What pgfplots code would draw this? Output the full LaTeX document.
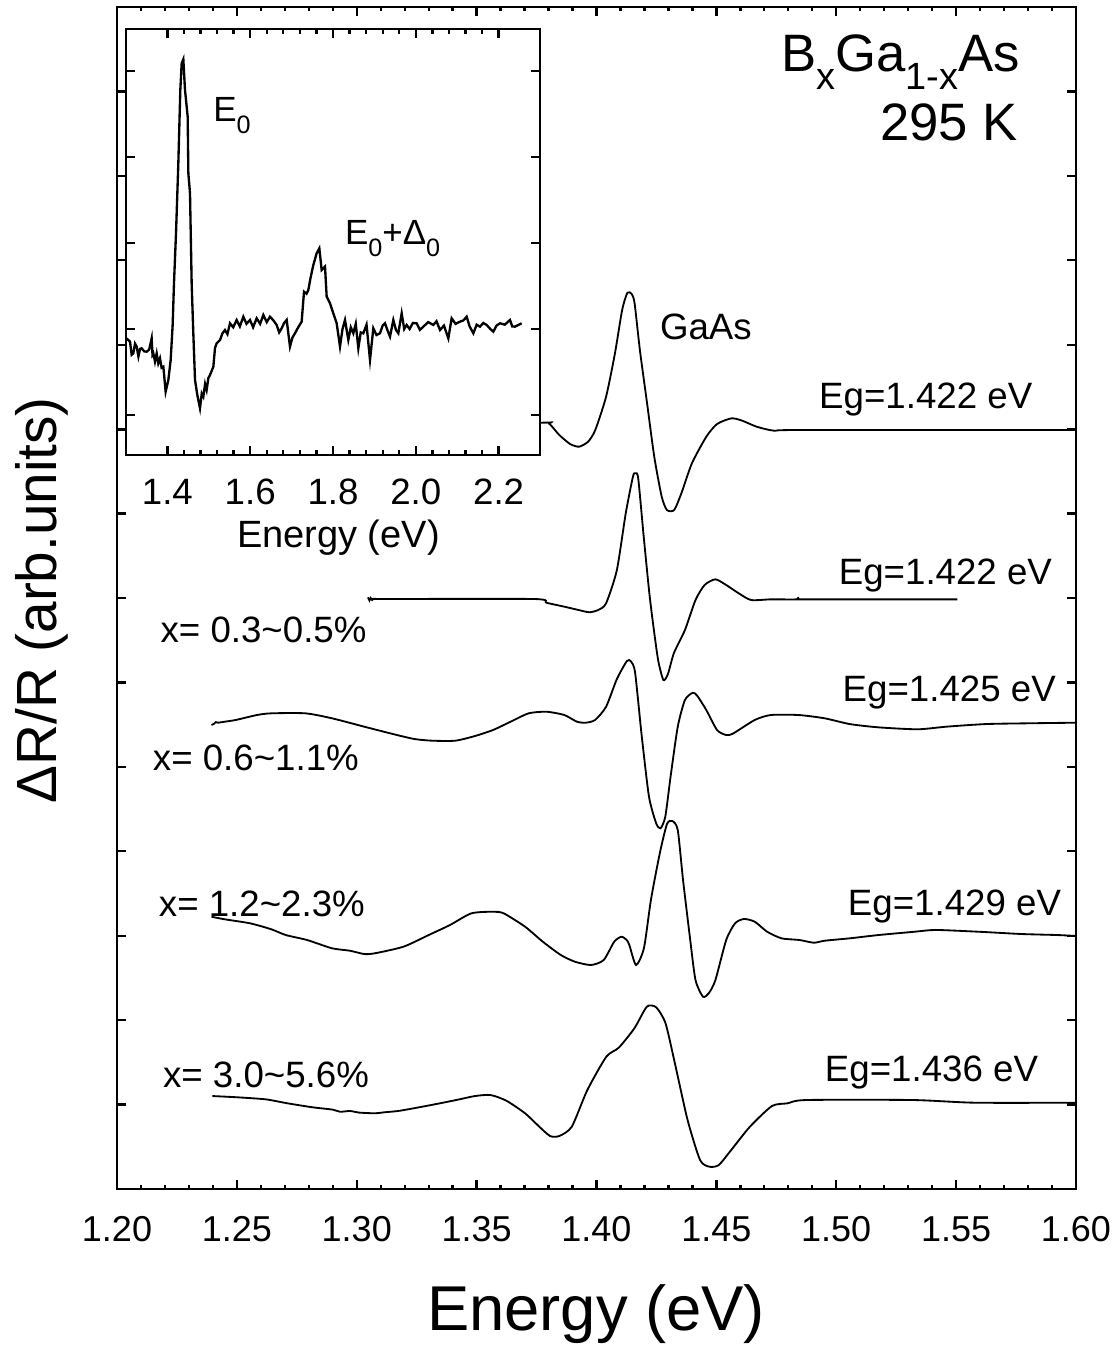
\documentclass[border=0pt]{standalone}
\usepackage{fontspec}
\setmainfont{Liberation Sans}
\usepackage{graphicx}
\usepackage{pgfplots}
\pgfplotsset{compat=1.18}
\newcommand{\sub}[1]{\raisebox{-0.33em}{\scalebox{0.72}{#1}}}
\newcommand{\fs}[1]{\fontsize{#1}{#1}\selectfont}
\tikzset{lab/.style={inner sep=0pt, outer sep=0pt}}
\begin{document}
\begin{tikzpicture}
\useasboundingbox (-35.1pt,-48pt) rectangle (300.9pt,356.7pt);
\begin{axis}[
 at={(0pt,0pt)}, anchor=south west,
 scale only axis, width=287.7pt, height=354.6pt,
 xmin=1.2, xmax=1.6, ymin=0, ymax=14,
 xtick={1.2,1.25,1.3,1.35,1.4,1.45,1.5,1.55,1.6},
 minor x tick num=4,
 ytick={1,2,...,13}, yticklabels={},
 tick align=inside, xtick pos=both, ytick pos=both,
 major tick length=2.7pt, minor tick length=1.3pt,
 every tick/.style={black, line width=0.7pt},
 axis line style={line width=0.8pt},
 /pgf/number format/assume math mode=true,
 xticklabel style={font=\fs{10.8}, anchor=base, yshift=-15.6pt,
   /pgf/number format/fixed, /pgf/number format/fixed zerofill, /pgf/number format/precision=2},
 xlabel={Energy (eV)},
 xlabel style={font=\fs{19}, at={(axis description cs:0.4995,-0.1199)}, anchor=base},
 ylabel={ΔR/R (arb.units)},
 ylabel style={font=\fs{17}, at={(axis description cs:-0.0636,0.498)}, anchor=base},
]
% GaAs
\addplot[black, line width=0.55pt, smooth, tension=0.4] coordinates {
(1.200,8.99) (1.300,9.03) (1.3764,9.076) (1.3801,9.069) (1.3845,8.930) (1.3890,8.824) (1.3927,8.792) (1.3965,8.851) (1.3995,8.990) (1.4040,9.384) (1.4077,9.898) (1.4107,10.411) (1.4129,10.616) (1.4147,10.600) (1.4159,10.490) (1.4181,9.937) (1.4211,9.306) (1.4241,8.673) (1.4272,8.200) (1.4294,8.042) (1.4324,8.042) (1.4354,8.240) (1.4398,8.595) (1.4458,8.910) (1.4503,9.061) (1.4563,9.128) (1.4608,9.100) (1.4668,9.029) (1.4742,8.981) (1.4847,8.990) (1.6000,8.99)
};
% x = 0.3-0.5 %
\addplot[black, line width=0.55pt, smooth, tension=0.4] coordinates {
(1.3047,7.008) (1.3053,6.97) (1.3058,7.00) (1.3064,6.976) (1.3070,6.99) (1.3091,6.988) (1.3739,6.988) (1.3791,6.944) (1.3866,6.897) (1.3925,6.858) (1.3970,6.831) (1.4007,6.858) (1.4040,6.937) (1.4085,7.331) (1.4122,8.003) (1.4152,8.437) (1.4162,8.477) (1.4174,8.418) (1.4197,7.726) (1.4219,7.095) (1.4234,6.739) (1.4257,6.266) (1.4279,6.029) (1.4298,6.100) (1.4323,6.348) (1.4369,6.621) (1.4413,6.976) (1.4451,7.154) (1.4496,7.221) (1.4541,7.154) (1.4593,7.056) (1.4645,6.976) (1.4727,6.984) (1.4835,6.984) (1.4840,7.01) (1.4845,6.984) (1.4877,6.984) (1.5505,6.984)
};
% x = 0.6-1.1 %
\addplot[black, line width=0.55pt, smooth, tension=0.4] coordinates {
(1.2394,5.496) (1.2405,5.51) (1.2412,5.53) (1.2421,5.523) (1.2450,5.535) (1.2495,5.555) (1.2584,5.614) (1.2644,5.634) (1.2786,5.634) (1.2897,5.575) (1.3031,5.476) (1.3151,5.389) (1.3240,5.330) (1.3314,5.310) (1.3411,5.310) (1.3493,5.365) (1.3568,5.436) (1.3642,5.535) (1.3717,5.634) (1.3791,5.653) (1.3866,5.614) (1.3918,5.535) (1.3955,5.523) (1.3994,5.555) (1.4040,5.712) (1.4085,6.040) (1.4127,6.254) (1.4144,6.248) (1.4161,6.117) (1.4189,5.357) (1.4219,4.646) (1.4249,4.331) (1.4267,4.272) (1.4287,4.410) (1.4309,4.883) (1.4339,5.476) (1.4369,5.792) (1.4402,5.878) (1.4421,5.839) (1.4458,5.673) (1.4503,5.436) (1.4541,5.377) (1.4571,5.397) (1.4660,5.555) (1.4727,5.614) (1.4843,5.614) (1.4952,5.575) (1.5056,5.507) (1.5176,5.468) (1.5340,5.445) (1.5460,5.476) (1.5625,5.507) (1.5804,5.516) (1.6000,5.523)
};
% x = 1.2-2.3 %
\addplot[black, line width=0.55pt, smooth, tension=0.4] coordinates {
(1.2394,3.225) (1.2450,3.194) (1.2555,3.147) (1.2644,3.076) (1.2704,3.008) (1.2793,2.949) (1.2897,2.851) (1.2972,2.822) (1.3031,2.783) (1.3076,2.792) (1.3195,2.870) (1.3300,3.008) (1.3389,3.127) (1.3478,3.265) (1.3568,3.284) (1.3613,3.265) (1.3702,3.107) (1.3776,2.929) (1.3851,2.772) (1.3910,2.692) (1.3977,2.653) (1.4030,2.712) (1.4074,2.929) (1.4104,2.988) (1.4126,2.949) (1.4137,2.890) (1.4165,2.653) (1.4198,2.854) (1.4227,3.423) (1.4264,3.976) (1.4294,4.323) (1.4316,4.359) (1.4339,4.252) (1.4361,3.660) (1.4391,2.949) (1.4413,2.475) (1.4444,2.278) (1.4469,2.321) (1.4496,2.475) (1.4541,2.949) (1.4578,3.147) (1.4615,3.198) (1.4660,3.166) (1.4712,3.047) (1.4772,2.969) (1.4847,2.949) (1.4907,2.917) (1.4952,2.941) (1.5056,2.969) (1.5176,3.008) (1.5326,3.047) (1.5415,3.068) (1.5595,3.047) (1.5774,3.020) (1.5923,3.008) (1.6000,2.997)
};
% x = 3.0-5.6 %
\addplot[black, line width=0.55pt, smooth, tension=0.4] coordinates {
(1.2398,1.101) (1.2503,1.086) (1.2620,1.062) (1.2711,1.015) (1.2815,0.968) (1.2900,0.94) (1.2930,0.915) (1.2972,0.924) (1.3010,0.905) (1.3076,0.897) (1.3120,0.91) (1.3180,0.927) (1.3311,0.995) (1.3415,1.054) (1.3493,1.101) (1.3558,1.113) (1.3624,1.046) (1.3702,0.897) (1.3754,0.758) (1.3806,0.628) (1.3845,0.628) (1.3897,0.738) (1.3962,1.173) (1.4041,1.567) (1.4093,1.674) (1.4158,1.903) (1.4210,2.159) (1.4249,2.152) (1.4288,1.963) (1.4327,1.489) (1.4380,0.817) (1.4432,0.343) (1.4471,0.264) (1.4510,0.284) (1.4562,0.462) (1.4640,0.738) (1.4732,0.983) (1.4797,1.015) (1.4875,1.054) (1.5318,1.054) (1.5579,1.022) (1.6000,1.022)
};
\node[lab, font=\fs{11}, anchor=base west] at (axis cs:1.4265,10.056) {GaAs};
\node[lab, font=\fs{11}, anchor=base west] at (axis cs:1.4929,9.250) {Eg=1.422 eV};
\node[lab, font=\fs{11}, anchor=base west] at (axis cs:1.5011,7.154) {Eg=1.422 eV};
\node[lab, font=\fs{11}, anchor=base west] at (axis cs:1.5027,5.772) {Eg=1.425 eV};
\node[lab, font=\fs{11}, anchor=base west] at (axis cs:1.5049,3.245) {Eg=1.429 eV};
\node[lab, font=\fs{11}, anchor=base west] at (axis cs:1.4953,1.279) {Eg=1.436 eV};
\node[lab, font=\fs{11}, anchor=base west] at (axis cs:1.2182,6.470) {x= 0.3\textasciitilde 0.5\%};
\node[lab, font=\fs{11}, anchor=base west] at (axis cs:1.2150,4.954) {x= 0.6\textasciitilde 1.1\%};
\node[lab, font=\fs{11}, anchor=base west] at (axis cs:1.2175,3.233) {x= 1.2\textasciitilde 2.3\%};
\node[lab, font=\fs{11}, anchor=base west] at (axis cs:1.2192,1.208) {x= 3.0\textasciitilde 5.6\%};
\node[lab, font=\fs{15.8}, anchor=base east] at (axis cs:1.5766,13.233) {B\sub{x}Ga\sub{1-x}As};
\node[lab, font=\fs{15.8}, anchor=base east] at (axis cs:1.5758,12.424) {295 K};
\end{axis}
% inset
\begin{axis}[
 at={(2.7pt,220.2pt)}, anchor=south west,
 scale only axis, width=124.2pt, height=127.8pt,
 xmin=1.3, xmax=2.3, ymin=-0.465, ymax=4.488,
 xtick={1.4,1.6,1.8,2.0,2.2}, minor x tick num=4,
 ytick={0,1,2,3,4}, yticklabels={},
 tick align=inside, xtick pos=both, ytick pos=both,
 major tick length=2.7pt, minor tick length=1.5pt,
 every tick/.style={black, line width=0.7pt},
 axis line style={line width=0.8pt},
 axis background/.style={fill=white},
 /pgf/number format/assume math mode=true,
 xticklabel style={font=\fs{11}, anchor=base, yshift=-15pt,
   /pgf/number format/fixed, /pgf/number format/fixed zerofill, /pgf/number format/precision=1},
 xlabel={Energy (eV)},
 xlabel style={font=\fs{11.4}, at={(axis description cs:0.513,-0.218)}, anchor=base},
]
\addplot[black, line width=0.7pt] coordinates {
(1.3016,0.891) (1.3097,0.853) (1.3137,0.70) (1.3177,0.717) (1.3218,0.83) (1.3258,0.795) (1.3300,0.68) (1.3340,0.77) (1.3378,0.775) (1.3440,0.74) (1.3499,0.736) (1.3560,0.76) (1.3620,0.891) (1.3640,0.70) (1.3660,0.717) (1.3700,0.62) (1.3741,0.717) (1.3780,0.60) (1.3821,0.659) (1.3860,0.55) (1.3902,0.562) (1.3958,0.271) (1.4023,0.407) (1.4079,0.640) (1.4127,1.047) (1.4159,1.531) (1.4208,2.112) (1.4264,2.926) (1.4312,3.779) (1.4345,4.089) (1.4385,4.136) (1.4425,3.779) (1.4490,3.469) (1.4506,2.810) (1.4546,2.578) (1.4586,1.531) (1.4626,0.950) (1.4667,0.407) (1.4723,0.233) (1.4787,0.078) (1.4830,0.25) (1.4868,0.213) (1.4910,0.36) (1.4948,0.291) (1.4990,0.43) (1.5029,0.465) (1.5110,0.562) (1.5150,0.78) (1.5190,0.833) (1.5271,0.872) (1.5330,0.95) (1.5391,0.988) (1.5450,0.94) (1.5512,1.066) (1.5590,1.02) (1.5673,1.105) (1.5750,1.03) (1.5834,1.143) (1.5910,1.06) (1.5995,1.105) (1.6070,1.02) (1.6156,1.124) (1.6240,1.06) (1.6317,1.163) (1.6400,1.08) (1.6478,1.143) (1.6560,1.10) (1.6639,1.047) (1.6700,0.96) (1.6760,1.008) (1.6820,1.07) (1.6881,1.105) (1.6961,0.795) (1.7020,0.90) (1.7082,0.950) (1.7160,1.02) (1.7243,1.085) (1.7300,1.434) (1.7360,1.41) (1.7404,1.453) (1.7460,1.60) (1.7525,1.744) (1.7605,1.880) (1.7670,1.938) (1.7726,1.686) (1.7807,1.725) (1.7847,1.376) (1.7928,1.298) (1.8008,1.182) (1.8089,1.066) (1.8169,0.795) (1.8230,1.00) (1.8290,1.105) (1.8370,0.872) (1.8430,1.02) (1.8491,0.950) (1.8550,1.06) (1.8612,0.775) (1.8670,0.96) (1.8732,0.950) (1.8810,1.05) (1.8894,0.640) (1.8974,1.008) (1.9050,0.93) (1.9135,0.950) (1.9200,1.04) (1.9256,1.066) (1.9320,0.98) (1.9377,0.911) (1.9457,1.105) (1.9520,0.99) (1.9578,0.950) (1.9659,1.182) (1.9720,1.00) (1.9779,1.047) (1.9850,1.00) (1.9930,1.07) (2.0021,1.066) (2.0100,0.99) (2.0182,1.027) (2.0300,1.08) (2.0424,1.047) (2.0500,1.09) (2.0585,0.988) (2.0680,1.04) (2.0786,0.891) (2.0866,1.124) (2.0960,1.06) (2.1068,1.085) (2.1150,1.10) (2.1229,1.143) (2.1300,1.03) (2.1390,0.950) (2.1470,1.05) (2.1551,1.027) (2.1630,1.07) (2.1712,1.047) (2.1800,1.00) (2.1873,0.969) (2.1950,1.04) (2.2034,1.066) (2.2150,1.05) (2.2275,1.105) (2.2330,1.03) (2.2396,1.027) (2.2557,1.066)
};
\node[lab, font=\fs{10.5}, anchor=base west] at (axis cs:1.5109,3.410) {E\sub{0}};
\node[lab, font=\fs{10.5}, anchor=base west] at (axis cs:1.829,1.977) {E\sub{0}+Δ\sub{0}};
\end{axis}
\end{tikzpicture}
\end{document}
